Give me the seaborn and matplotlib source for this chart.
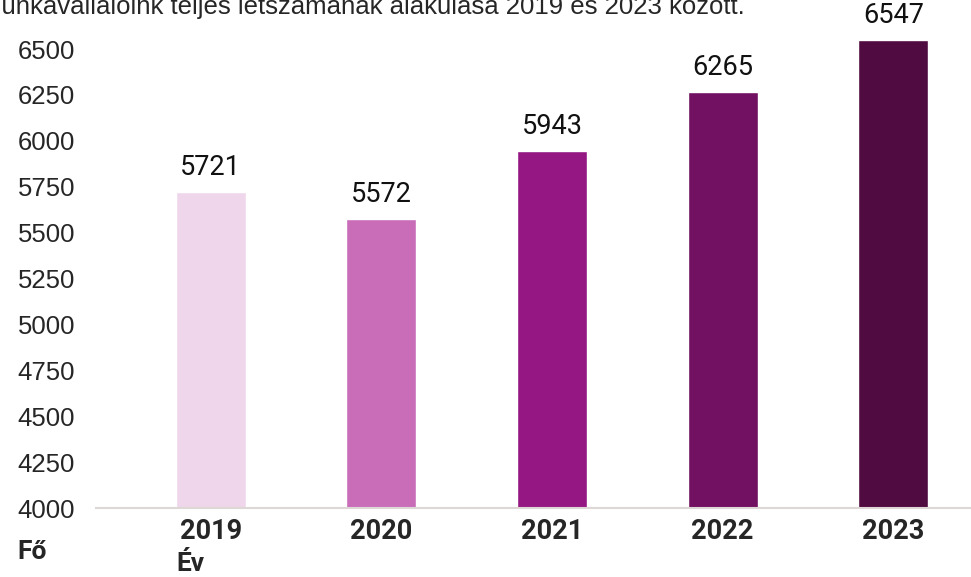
import matplotlib
matplotlib.use("Agg")
import matplotlib.pyplot as plt
import seaborn as sns
import pandas as pd

years = ["2019", "2020", "2021", "2022", "2023"]
headcount = [5721, 5572, 5943, 6265, 6547]
bar_colors = ["#EFD6EA", "#C96DB9", "#951783", "#721061", "#500C40"]
y_ticks = [4000, 4250, 4500, 4750, 5000, 5250, 5500, 5750, 6000, 6250, 6500]
title = "Munkavállalóink teljes létszámának alakulása 2019 és 2023 között."

df = pd.DataFrame({"year": years, "count": headcount})

sns.set_theme(style="white")
plt.rcParams["font.family"] = ["Roboto", "DejaVu Sans"]

fig = plt.figure(figsize=(9.71, 5.77), dpi=100)
ax = fig.add_axes([96 / 971, 1 - 508 / 577, 1 - 96 / 971, 508 / 577])

sns.barplot(data=df, x="year", y="count", hue="year", palette=bar_colors,
            width=0.41, legend=False, ax=ax, saturation=1)

ax.set_ylim(4000, 6767)
ax.set_xlim(-0.673, 4.456)
ax.set_yticks(y_ticks)
ax.set_yticklabels([str(t) for t in y_ticks], family="Liberation Sans", fontsize=18.5)
ax.set_xticks(range(len(years)))
ax.set_xticklabels(years, fontsize=19.5, fontweight="bold")
ax.tick_params(axis="y", length=0, pad=15)
ax.tick_params(axis="x", length=0, pad=7)

for side in ["left", "right", "top"]:
    ax.spines[side].set_visible(False)
ax.spines["bottom"].set_color("#DDD8D6")
ax.spines["bottom"].set_linewidth(1.5)

for container in ax.containers:
    ax.bar_label(container, fontsize=19.5, padding=8, color="#111111")

ax.set_xlabel("")
ax.set_ylabel("")

fig.text(176 / 971, 1 / 577, "Év", fontsize=19, fontweight="bold", ha="left", va="bottom")
fig.text(17 / 971, 1 - 552 / 577, "Fő", fontsize=19, fontweight="bold", ha="left", va="center")
fig.text(-20 / 971, 1 - 14 / 577, title, family="Liberation Sans", fontsize=18.5,
         ha="left", va="baseline")

fig.savefig("out.png", dpi=100)
